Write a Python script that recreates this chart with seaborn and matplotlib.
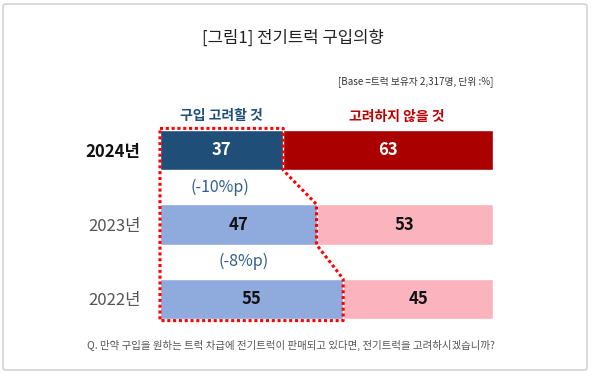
import matplotlib
matplotlib.use('Agg')
import matplotlib.pyplot as plt
from matplotlib.patches import FancyBboxPatch
import seaborn as sns
import pandas as pd

# data
years = ['2024년', '2023년', '2022년']
consider = [37, 47, 55]
not_consider = [63, 53, 45]

title = '[그림1] 전기트럭 구입의향'
base_note = '[Base =트럭 보유자 2,317명, 단위 :%]'
question = 'Q. 만약 구입을 원하는 트럭 차급에 전기트럭이 판매되고 있다면, 전기트럭을 고려하시겠습니까?'
header_yes = '구입 고려할 것'
header_no = '고려하지 않을 것'

sns.set_theme(style='white')
plt.rcParams['font.family'] = ['Noto Sans CJK KR', 'DejaVu Sans']

df = pd.DataFrame({'year': years, 'consider': consider, 'not_consider': not_consider})
df['total'] = df['consider'] + df['not_consider']

fig = plt.figure(figsize=(5.91, 3.73), dpi=100)
ax = fig.add_axes([160 / 591, 36.75 / 373, 333 / 591, 223.5 / 373])

# stacked bars: total first, consider on top
sns.barplot(data=df, x='total', y='year', hue='year', orient='h', ax=ax,
            palette=['#AA0000', '#FBB4BE', '#FBB4BE'], width=0.54,
            legend=False, saturation=1)
sns.barplot(data=df, x='consider', y='year', hue='year', orient='h', ax=ax,
            palette=['#1F4E79', '#8FAADC', '#8FAADC'], width=0.54,
            legend=False, saturation=1)

ax.set_xlim(0, 100)
ax.set_ylim(2.5, -0.5)
ax.set_xlabel('')
ax.set_ylabel('')
ax.set_xticks([])
for s in ax.spines.values():
    s.set_visible(False)
ax.tick_params(axis='y', length=0, pad=14)
ax.set_yticks(range(len(years)))
ax.set_yticklabels(years, fontsize=12)
for i, lab in enumerate(ax.get_yticklabels()):
    if i == 0:
        lab.set_fontweight('bold')
        lab.set_color('#111111')
    else:
        lab.set_color('#555555')

# value labels
for i in range(len(years)):
    c = consider[i]
    n = not_consider[i]
    col = 'white' if i == 0 else '#111111'
    ax.text(c / 2, i, str(c), ha='center', va='center', fontsize=12,
            fontweight='bold', color=col)
    ax.text(c + n / 2, i, str(n), ha='center', va='center', fontsize=12,
            fontweight='bold', color=col)

# difference labels between rows
diff_x = [18, 25]
for i in range(len(years) - 1):
    d = consider[i] - consider[i + 1]
    ax.text(diff_x[i], i + 0.5, f'({d}%p)', ha='center', va='center',
            fontsize=11.5, color='#2F5F8F')

# headers
ax.text(consider[0] / 2, -0.45, header_yes, ha='center', va='center',
        fontsize=10, fontweight='bold', color='#1F4E79')
ax.text(71, -0.45, header_no, ha='center', va='center',
        fontsize=10, fontweight='bold', color='#C00000')

# dotted red outline around the "consider" bars
hw = 0.29
px = [0]
py = [-hw]
for i, c in enumerate(consider):
    px += [c, c]
    py += [i - hw if i == 0 else i - 0.27, i + 0.27 if i < len(consider) - 1 else i + hw]
px += [0, 0]
py += [len(consider) - 1 + hw, -hw]
ax.plot(px, py, color='#FF0000', linewidth=2.2, linestyle=(0, (1, 0.9)),
        clip_on=False, zorder=5, solid_capstyle='butt')

# text around the chart
fig.text(293 / 591, 1 - 38 / 373, title, ha='center', va='center',
         fontsize=12, color='#222222')
fig.text(493 / 591, 1 - 82 / 373, base_note, ha='right', va='center',
         fontsize=7, color='#333333')
fig.text(87 / 591, 1 - 345 / 373, question, ha='left', va='center',
         fontsize=7.5, color='#555555')

# light frame
frame = FancyBboxPatch((3 / 591, 3 / 373), 584 / 591, 366 / 373,
                       boxstyle='round,pad=0,rounding_size=0.006',
                       transform=fig.transFigure, facecolor='none',
                       edgecolor='#D4D4D4', linewidth=1.2)
fig.patches.append(frame)

fig.savefig('out.png', dpi=100)
